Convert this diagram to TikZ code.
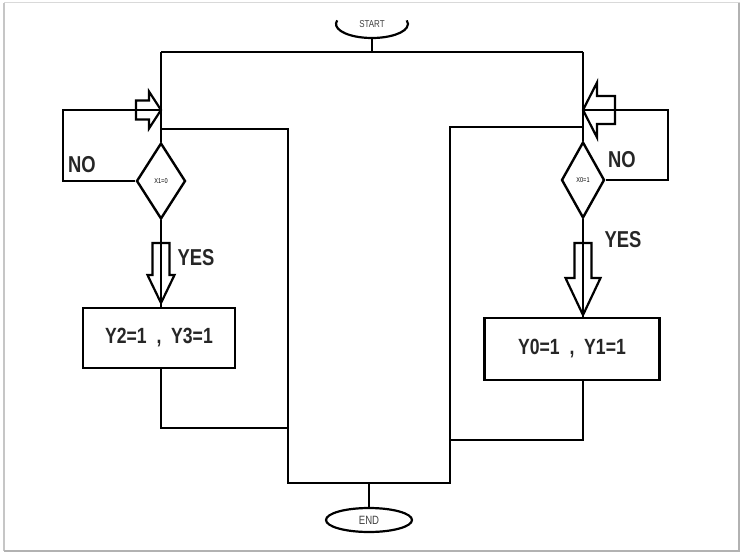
\documentclass[tikz,border=0pt]{standalone}
\usepackage{fontspec}
\setmainfont{Liberation Sans}
\newfontfamily\narrowfont[FakeStretch=0.8]{Liberation Sans}
\usepackage{tikz}
\usetikzlibrary{shapes.geometric,positioning,calc}
\tikzset{
  flow/.style={line width=2.6pt},
  decision/.style={diamond, draw, line width=2.4pt, inner sep=0pt,
                   font=\narrowfont\fontsize{7}{7}\selectfont},
  actbox/.style={rectangle, draw, line width=2.6pt, inner sep=0pt,
                 font=\narrowfont\bfseries\fontsize{22}{22}\selectfont, text=black!85},
  lbl/.style={font=\narrowfont\bfseries\fontsize{23}{23}\selectfont, text=black!85},
  barrow/.style={draw, line width=2.2pt, line join=miter},
  terminal/.style={ellipse, inner sep=0pt,
                   font=\narrowfont\fontsize{10}{10}\selectfont, text=black!75},
}
\begin{document}
\begin{tikzpicture}[x=1pt,y=-1pt]
  \useasboundingbox (0,0) rectangle (743,556);
  % page frame
  \draw[gray!30, line width=1pt] (4,3) rectangle (739,551);
  \draw[gray!45, line width=2pt] (4,3) -- (4,551);
  \draw[gray!60, line width=2pt] (4,551) -- (739,551) -- (739,3);
  % terminals
  \node[terminal, minimum width=72pt, minimum height=28pt] (start) at (372,24) {START};
  \draw[flow, line width=2.2pt] ($(start.center)+(165:36pt and 14pt)$)
    arc[start angle=165, end angle=375, x radius=36pt, y radius=14pt];
  \node[terminal, draw, line width=2.2pt, minimum width=86pt, minimum height=24pt,
        font=\narrowfont\fontsize{12}{12}\selectfont] (end) at (369,520) {END};
  % decisions
  \node[decision, minimum width=49pt, minimum height=76pt] (d1) at (161,181) {X1=0};
  \node[decision, minimum width=43pt, minimum height=76pt] (d0) at (583,180) {X0=1};
  % actions
  \node[actbox, minimum width=152pt, minimum height=60pt] (box1) at (159,338) {Y2=1\ \ ,\ \ Y3=1};
  \node[actbox, minimum width=175pt, minimum height=62pt] (box0) at (572,349) {Y0=1\ \ ,\ \ Y1=1};
  % joints
  \coordinate (tl) at (161,52);
  \coordinate (tm) at (372,52);
  \coordinate (tr) at (583,52);
  \coordinate (lsplit) at (161,129);
  \coordinate (rsplit) at (583,127);
  \coordinate (bl) at (288,483);
  \coordinate (br) at (450,483);
  \coordinate (bm) at (369,483);
  \coordinate (lloop) at (63,110);
  \coordinate (rloop) at (668,110);
  \coordinate (lmerge) at (161,110);
  \coordinate (rmerge) at (583,110);
  \coordinate (ljoin) at (288,428);
  \coordinate (rjoin) at (450,440);
  \coordinate (ltip) at (161,303);
  \coordinate (rtip) at (583,315);
  % main lines
  \draw[flow] (start.south) -- (tm);
  \draw[flow] (tl) -- (tr);
  \draw[flow] (tl) -- (d1.north);
  \draw[flow] (tr) -- (d0.north);
  \draw[flow] (lsplit) -| (bl) -- (br) |- (rsplit);
  \draw[flow] (bm) -- (end.north);
  % NO loops
  \draw[flow] (d1.west) -| (lloop) -- (lmerge);
  \draw[flow] (d0.east) -| (rloop) -- (rmerge);
  % YES branches
  \draw[flow] (d1.south) -- (d1.south |- box1.north);
  \draw[flow] (d0.south) -- (d0.south |- box0.north);
  \draw[flow] (d1.south |- box1.south) |- (ljoin);
  \draw[flow] (d0.south |- box0.south) |- (rjoin);
  % block arrows
  \draw[barrow] (lmerge) -- ++(-12,-18.5) -- ++(0,9) -- ++(-13,0) -- ++(0,19)
    -- ++(13,0) -- ++(0,9) -- cycle;
  \draw[barrow] (rmerge) -- ++(14,-27.5) -- ++(0,13.5) -- ++(18,0) -- ++(0,28)
    -- ++(-18,0) -- ++(0,13.5) -- cycle;
  \draw[barrow] (ltip) -- ++(-13.5,-28) -- ++(5,0) -- ++(0,-32) -- ++(17,0)
    -- ++(0,32) -- ++(5,0) -- cycle;
  \draw[barrow] (rtip) -- ++(-17.5,-37) -- ++(9,0) -- ++(0,-35) -- ++(17,0)
    -- ++(0,35) -- ++(9,0) -- cycle;
  % labels
  \node[lbl] (no1) at (82,165) {NO};
  \node[lbl] (yes1) at (196,258) {YES};
  \node[lbl] (no0) at (622,160) {NO};
  \node[lbl] (yes0) at (623,240) {YES};
\end{tikzpicture}
\end{document}
